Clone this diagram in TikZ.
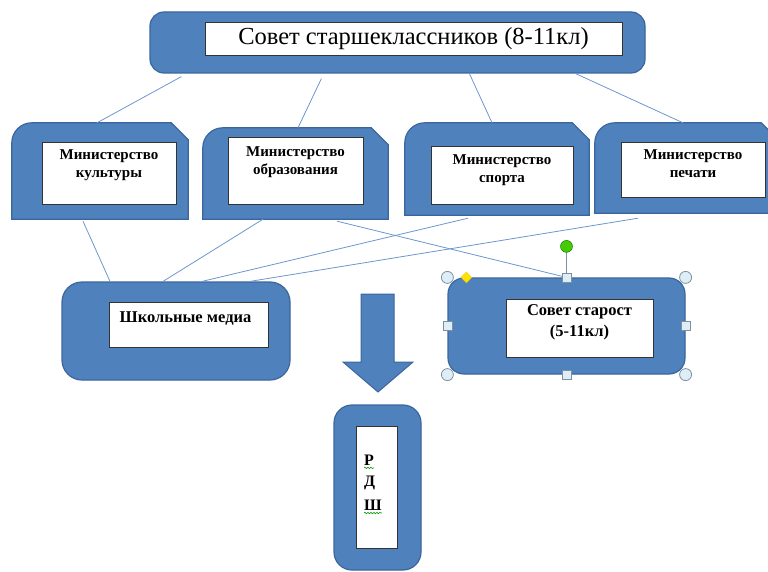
\documentclass[tikz,border=0pt]{standalone}
\usepackage{fontspec}
\setmainfont{Liberation Serif}
\usetikzlibrary{positioning,shapes.geometric,decorations.pathmorphing}

\definecolor{boxblue}{HTML}{4F81BD}
\definecolor{boxedge}{HTML}{3A669C}
\definecolor{linkblue}{HTML}{6B97CF}
\definecolor{handlefill}{HTML}{DDEEF6}
\definecolor{handleedge}{HTML}{7F8F9E}

\tikzset{
  bluebox/.style={draw=boxedge, fill=boxblue, line width=1.2pt, rounded corners=#1, inner sep=0pt},
  shapeonly/.style={inner sep=0pt},
  whitebox/.style={draw=black!80, fill=white, line width=0.9pt, inner sep=0pt},
  link/.style={draw=linkblue, line width=0.8pt},
  bigtext/.style={font=\fontsize{24.5}{28}\selectfont, inner sep=0pt},
  boldtext/.style={font=\bfseries\fontsize{15}{18}\selectfont, align=center, inner sep=0pt},
  rdshletter/.style={font=\bfseries\fontsize{16}{18}\selectfont, inner sep=0pt, anchor=north west},
  squiggle/.style={draw=green!60!black, line width=0.6pt, decorate,
    decoration={snake, amplitude=0.7pt, segment length=3pt}},
  cornerhandle/.style={circle, draw=handleedge, fill=handlefill, line width=0.8pt, minimum size=12pt, inner sep=0pt},
  sidehandle/.style={rectangle, draw=handleedge, fill=handlefill, line width=0.8pt, minimum size=9pt, inner sep=0pt},
}

% snipped top right, rounded top left
\newcommand\snipshape[1]{%
  \filldraw[draw=boxedge, fill=boxblue, line width=1.2pt]
    (#1.south west) -- ([yshift=-20pt]#1.north west)
    arc[start angle=180, end angle=90, radius=20]
    -- ([xshift=-17pt]#1.north east) -- ([yshift=-17pt]#1.north east)
    -- (#1.south east) -- cycle;}

\begin{document}
\begin{tikzpicture}[x=1pt, y=1pt]
\useasboundingbox (0,0) rectangle (768,-572);
\clip (0,0) rectangle (768,-572);

% top
\node[bluebox=14, minimum width=495pt, minimum height=61pt] (sovet) at (397.5,-42.5) {};
\node[whitebox, minimum width=417pt, minimum height=33pt] (sovetin) at (413.5,-38.5) {};
\node[bigtext] at (sovetin) {Совет старшеклассников (8-11кл)};

% ministries
\node[shapeonly, minimum width=176pt, minimum height=96pt] (kult) at (100,-171) {};
\node[shapeonly, minimum width=185pt, minimum height=91pt] (obr) at (295.5,-173.5) {};
\node[shapeonly, minimum width=184pt, minimum height=92pt] (sport) at (497,-169) {};
\node[shapeonly, minimum width=183pt, minimum height=90pt] (pech) at (686.5,-168) {};
\snipshape{kult}
\snipshape{obr}
\snipshape{sport}
\snipshape{pech}
\node[whitebox, minimum width=134pt, minimum height=62pt] (kultin) at (109,-173) {};
\node[whitebox, minimum width=135pt, minimum height=67pt] (obrin) at (295.5,-170.5) {};
\node[whitebox, minimum width=142pt, minimum height=58pt] (sportin) at (502,-175) {};
\node[whitebox, minimum width=144pt, minimum height=55pt] (pechin) at (693,-169.5) {};
\node[boldtext, below=8pt of kultin.north] {Министерство\\культуры};
\node[boldtext, below=10pt of obrin.north] {Министерство\\образования};
\node[boldtext, below=9pt of sportin.north] {Министерство\\спорта};
\node[boldtext, below=8pt of pechin.north] {Министерство\\печати};

% lower row
\node[bluebox=20, minimum width=228pt, minimum height=98pt] (media) at (176,-331) {};
\node[whitebox, minimum width=159pt, minimum height=45pt] (mediain) at (188.5,-324.5) {};
\node[boldtext, font=\bfseries\fontsize{16.5}{18}\selectfont, below=10pt of mediain.north, xshift=-3pt] {Школьные медиа};

\node[bluebox=16, minimum width=237pt, minimum height=96pt] (starosta) at (566.5,-326) {};
\node[whitebox, minimum width=147pt, minimum height=58pt] (starostain) at (579.5,-328) {};
\node[boldtext, font=\bfseries\fontsize{16.5}{21}\selectfont, below=6pt of starostain.north] {Совет старост\\(5-11кл)};

% arrow
\filldraw[draw=boxedge, fill=boxblue, line width=1pt]
  (361,-294) -- (394,-294) -- (394,-362) -- (413,-362) -- (378,-392)
  -- (343,-362) -- (361,-362) -- cycle;

\node[bluebox=18, minimum width=87pt, minimum height=165pt] (rdsh) at (377.5,-487.5) {};
\node[whitebox, minimum width=41pt, minimum height=122pt] (rdshin) at (376.5,-487) {};
\node[rdshletter] (rl) at (364,-455) {Р};
\node[rdshletter, below=10pt of rl.south west, anchor=north west] (dl) {Д};
\node[rdshletter, below=10pt of dl.south west, anchor=north west] (shl) {Ш};
\draw[squiggle] ([yshift=-2pt]rl.south west) -- ([yshift=-2pt]rl.south east);
\draw[squiggle] ([yshift=-2pt]shl.south west) -- ([yshift=-2pt]shl.south east);

% connectors
\draw[link] ([shift={(32,-3)}]sovet.south west) -- ([xshift=-3pt]kult.north);
\draw[link] ([shift={(172,-5)}]sovet.south west) -- ([xshift=2.5pt]obr.north);
\draw[link] ([xshift=320pt]sovet.south west) -- ([xshift=-5pt]sport.north);
\draw[link] ([xshift=-70pt]sovet.south east) -- ([xshift=-3.5pt]pech.north);
\draw[link] ([shift={(-17,-2)}]kult.south) -- ([xshift=-66pt]media.north);
\draw[link] ([xshift=-32.5pt]obr.south) -- ([xshift=-13pt]media.north);
\draw[link] ([shift={(41.5,-2)}]obr.south) -- (starosta.north);
\draw[link] ([shift={(-29,-3)}]sport.south) -- ([xshift=26pt]media.north);
\draw[link] ([shift={(-48.5,-5)}]pech.south) -- ([xshift=74pt]media.north);

% selection handles
\node[circle, draw=green!40!black, fill=green!55!lime!80!black, minimum size=12pt, inner sep=0pt] (rot) at ([yshift=31pt]starosta.north) {};
\draw[handleedge, line width=1.2pt] (rot) -- (starosta.north);
\foreach \a in {north west, north east, south west, south east}
  \node[cornerhandle] at (starosta.\a) {};
\foreach \a in {north, south, west, east}
  \node[sidehandle] at (starosta.\a) {};
\node[diamond, draw=yellow!60!orange, fill=yellow!85!orange, minimum size=11pt, inner sep=0pt] at ([xshift=19pt]starosta.north west) {};
\end{tikzpicture}
\end{document}
